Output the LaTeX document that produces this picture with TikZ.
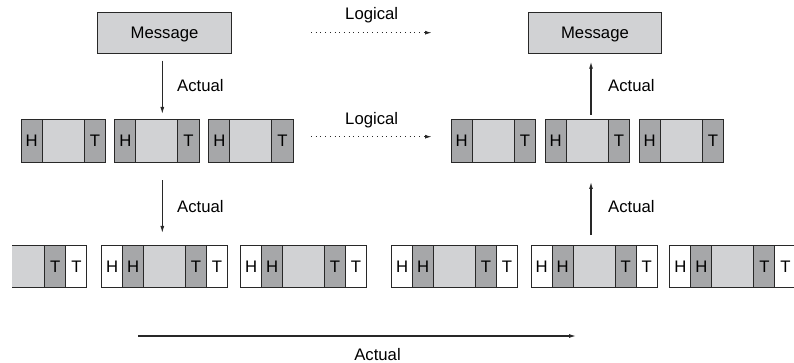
\documentclass[tikz,border=0pt]{standalone}
\usepackage{fontspec}
\setmainfont{Liberation Sans}
\usetikzlibrary{arrows.meta}
\definecolor{lt}{RGB}{209,210,212}
\definecolor{dk}{RGB}{166,167,169}
\definecolor{ln}{RGB}{40,40,40}
\tikzset{
  cell/.style={draw=ln, line width=1.1pt, inner sep=0pt, anchor=north west, font=\fontsize{16.7}{20}\selectfont},
  rowtwo/.style={cell, minimum height=42.7pt},
  rowthree/.style={cell, minimum height=42.3pt},
  msgbox/.style={cell, fill=lt, minimum width=133.4pt, minimum height=41.6pt, text depth=0pt},
  lbl/.style={inner sep=0pt, font=\fontsize{16.7}{20}\selectfont},
  actarrow/.style={draw=ln, line width=1.1pt, -{Latex[length=7pt,width=4pt]}},
  logarrow/.style={draw=ln, line width=1pt, dash pattern=on 0.9pt off 3.8pt, -{Latex[length=6.5pt,width=3.8pt]}}
}
\newcommand\twoframe[2]{%
  \node[rowtwo, fill=dk, minimum width=21pt] (#1h) at (#2,119.3) {H};
  \node[rowtwo, fill=lt, minimum width=42pt] (#1m) at ({#2+21},119.3) {};
  \node[rowtwo, fill=dk, minimum width=21.3pt] (#1t) at ({#2+63},119.3) {T};}
\newcommand\threeframe[2]{%
  \node[rowthree, fill=white, minimum width=21pt] (#1ho) at (#2,245) {H};
  \node[rowthree, fill=dk, minimum width=21pt] (#1hi) at ({#2+21},245) {H};
  \node[rowthree, fill=lt, minimum width=42pt] (#1m) at ({#2+42},245) {};
  \node[rowthree, fill=dk, minimum width=21pt] (#1ti) at ({#2+84},245) {T};
  \node[rowthree, fill=white, minimum width=21pt] (#1to) at ({#2+105},245) {T};}
\begin{document}
\begin{tikzpicture}[x=1pt,y=-1pt]
\useasboundingbox (0,0) rectangle (794,363);
% top messages
\node[msgbox] (msgL) at (97.3,11.7) {Message};
\node[msgbox] (msgR) at (527.7,11.7) {Message};
% middle row
\twoframe{la}{20.7}
\twoframe{lb}{114.3}
\twoframe{lc}{208.3}
\twoframe{ra}{450.7}
\twoframe{rb}{544.7}
\twoframe{rc}{638.7}
% bottom row
\begin{scope}
\clip (12,0) rectangle (794,363);
\node[rowthree, fill=lt, minimum width=42pt] (pam) at (2.3,245) {};
\node[rowthree, fill=dk, minimum width=21pt] (pati) at (44.3,245) {T};
\node[rowthree, fill=white, minimum width=21pt] (pato) at (65.3,245) {T};
\threeframe{pb}{101}
\threeframe{pc}{240}
\threeframe{pd}{391}
\threeframe{pe}{530.7}
\threeframe{pf}{669.3}
\end{scope}
% arrow end points
\coordinate (d1s) at (162.3,60.7);
\coordinate (d1e) at (162.3,114);
\coordinate (d2s) at (162.3,180.5);
\coordinate (d2e) at (162.3,233);
\coordinate (u1s) at (591,115);
\coordinate (u1e) at (591,61.7);
\coordinate (u2s) at (591,235);
\coordinate (u2e) at (591,182);
\coordinate (l1s) at (311,32.7);
\coordinate (l1e) at (431.7,32.7);
\coordinate (l2s) at (311,136.7);
\coordinate (l2e) at (431.7,136.7);
\coordinate (bs) at (138.3,336);
\coordinate (be) at (576,336);
\draw[actarrow] (d1s) -- (d1e);
\draw[actarrow] (d2s) -- (d2e);
\draw[actarrow] (u1s) -- (u1e);
\draw[actarrow] (u2s) -- (u2e);
\draw[actarrow] (bs) -- (be);
\draw[logarrow] (l1s) -- (l1e);
\draw[logarrow] (l2s) -- (l2e);
% labels
\node[lbl, anchor=base west] (t1) at (177,91.7) {Actual};
\node[lbl, anchor=base west] (t2) at (177,212.3) {Actual};
\node[lbl, anchor=base west] (t3) at (608,91.7) {Actual};
\node[lbl, anchor=base west] (t4) at (608,212.3) {Actual};
\node[lbl, anchor=base] (t5) at (377.5,360.3) {Actual};
\node[lbl, anchor=base] (g1) at (371.7,20) {Logical};
\node[lbl, anchor=base] (g2) at (371.7,125) {Logical};
\end{tikzpicture}
\end{document}
